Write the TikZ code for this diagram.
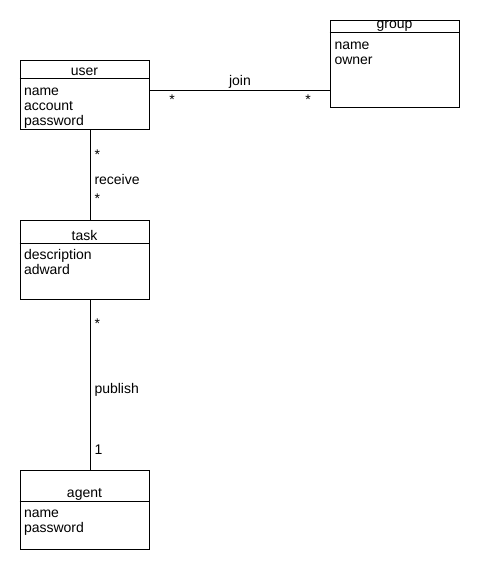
\documentclass[tikz,border=0pt]{standalone}
\usepackage{fontspec}
\setmainfont{Liberation Sans}
\usetikzlibrary{calc}

\begin{document}
\begin{tikzpicture}[x=1pt, y=-1pt, line width=1pt,
    class/.style = {draw, rectangle, minimum width=129pt, inner sep=0pt},
    txt/.style = {inner sep=0pt, anchor=base west, font=\fontsize{14}{15}\selectfont},
    title/.style = {txt, anchor=base}]
    \useasboundingbox (0,0) rectangle (480,570);

    % classes
    \node[class, minimum height=69pt] (user) at (84.5,94.5) {};
    \draw ($(user.north west)+(0,19)$) -- ($(user.north east)+(0,19)$);
    \node[title] (user-title) at ($(user.north)+(0,15.5)$) {user};
    \foreach \a [count=\i] in {name,account,password}
        \node[txt] (user-\i) at ($(user.north west)+(4,20.5+15*\i)$) {\a};

    \node[class, minimum height=87pt] (group) at (394.5,63.5) {};
    \draw ($(group.north west)+(0,13)$) -- ($(group.north east)+(0,13)$);
    \node[title] (group-title) at ($(group.north)+(0,9)$) {group};
    \foreach \a [count=\i] in {name,owner}
        \node[txt] (group-\i) at ($(group.north west)+(4.5,14.5+15*\i)$) {\a};

    \node[class, minimum height=79pt] (task) at (84.5,259.5) {};
    \draw ($(task.north west)+(0,24)$) -- ($(task.north east)+(0,24)$);
    \node[title] (task-title) at ($(task.north)+(0,20.5)$) {task};
    \foreach \a [count=\i] in {description,adward}
        \node[txt] (task-\i) at ($(task.north west)+(4,25+15*\i)$) {\a};

    \node[class, minimum height=79pt] (agent) at (84.5,509.5) {};
    \draw ($(agent.north west)+(0,32)$) -- ($(agent.north east)+(0,32)$);
    \node[title] (agent-title) at ($(agent.north)+(0,27.5)$) {agent};
    \foreach \a [count=\i] in {name,password}
        \node[txt] (agent-\i) at ($(agent.north west)+(4,33+15*\i)$) {\a};

    % associations
    \coordinate (lane) at (90,0);
    \coordinate (joinrow) at (0,90);
    \draw (user.east |- joinrow) -- (group.west |- joinrow);
    \draw (user.south -| lane) -- (task.north -| lane);
    \draw (task.south -| lane) -- (agent.north -| lane);

    \node[title] (join) at (240,85.5) {join};
    \node[title] (join-user) at (172,104) {*};
    \node[title] (join-group) at (308,104) {*};

    \node[txt] (receive-user) at (94,159) {*};
    \node[txt] (receive) at (94,184) {receive};
    \node[txt] (receive-task) at (94,203) {*};

    \node[txt] (publish-task) at (94,328) {*};
    \node[txt] (publish) at (94,393) {publish};
    \node[txt] (publish-agent) at (94,454) {1};
\end{tikzpicture}
\end{document}
